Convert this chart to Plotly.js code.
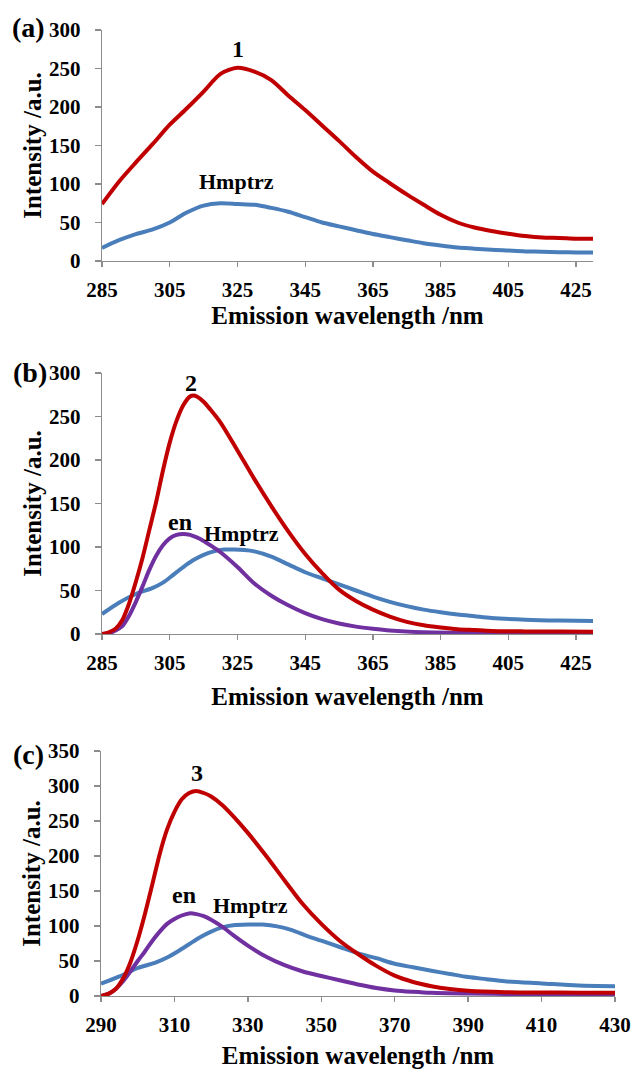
<!DOCTYPE html>
<html>
<head>
<meta charset="utf-8">
<script src="https://cdn.plot.ly/plotly-3.0.1.min.js"></script>
<style>
html,body{margin:0;padding:0;background:#fff;}
#chart{width:632px;height:1069px;}
</style>
</head>
<body>
<div id="chart"></div>
<script>
// ---------- Data ----------
// Panel (a)
const aRedX  = [285,290,295,300,305,310,315,320,325,330,335,340,345,350,355,360,365,370,375,380,385,390,395,400,405,410,415,420,425,430];
const aRedY  = [74,103,128,152,177,198,220,243,251,246,235,215,196,176,156,135,116,101,86.5,73,60,50,43.5,39,35.5,32.5,30.5,30,29,29];
const aBlueX = [285,290,295,300,305,310,315,320,325,330,335,340,345,350,355,360,365,370,375,380,385,390,395,400,405,410,415,420,425,430];
const aBlueY = [17,27,35,41,50,63,72,75,74,73,69,64,57,50,45,40,35,31,27,23,20,17.5,16,14.5,13.5,12.5,12,11.5,11,11];

// Panel (b)
const bRedX  = [285,287,289,291,293,295,297,299,301,303,305,307,309,311,312,313,315,317,320,325,330,335,340,345,350,355,360,365,370,375,380,385,390,395,400,410,420,430];
const bRedY  = [0,2,6,16,35,60,88,120,152,188,220,245,263,273,274,273,267,258,243,211,178,147,118,92,70,51,38,28,20,14,10,7.5,5.5,4.5,3.5,3,2.8,2.7];
const bEnX   = [285,287,289,291,293,295,297,299,301,303,305,307,309,311,313,315,317,320,325,330,335,340,345,350,355,360,365,370,380,390,400,430];
const bEnY   = [0,1,4,9,21,37,55,74,90,102,110,114,115,114,111,107,102,94,77,58,44,33,24,17,12,8.5,6,4,2,1.5,1.2,1];
const bBlueX = [285,290,295,300,303,306,309,312,315,318,321,324,327,330,335,340,345,350,355,360,365,370,375,380,385,390,395,400,410,420,430];
const bBlueY = [23,36,46,53,59,68,77,85,91,95,97,97,96.5,95,89,80,71,64,57,50,43,37,32,28,25,22.5,20.5,18.5,16.5,15.5,15];

// Panel (c)
const cRedX  = [290,292,294,296,298,300,302,304,306,308,310,312,314,316,318,320,323,326,330,335,340,345,350,355,360,365,370,375,380,385,390,400,410,420,430];
const cRedY  = [0,3,10,25,48,80,118,160,203,238,263,281,290,293,290,285,273,257,233,200,165,131,103,79,60,43,29,20,14,10,7.5,5.5,5,4.7,4.7];
const cEnX   = [290,292,294,296,298,300,302,304,306,308,310,312,314,316,318,320,323,326,330,335,340,345,350,355,360,365,370,375,380,390,400,430];
const cEnY   = [0,3,10,21,35,50,64,79,92,103,110,115,118,117,114,109,99,87,72,56,44,35,28.5,22.5,16.5,11.5,8,6,4.5,3.5,3,2.4];
const cBlueX = [290,295,300,305,308,311,314,317,320,323,326,330,334,338,342,346,350,355,360,365,370,375,380,385,390,395,400,410,420,430];
const cBlueY = [17.5,28,40,48,55,64,74,84,92,98,101,102,102,99.5,94,86,79,70,61,54,46,41,36,31.5,27,24,21,18,15,14];

// Tick values / labels
const abTicks = [285,305,325,345,365,385,405,425];
const cTicks  = [290,310,330,350,370,390,410,430];
const panelLabels = ['(a)','(b)','(c)'];
const seriesLabels = {a:['1','Hmptrz'], b:['2','en','Hmptrz'], c:['3','en','Hmptrz']};
const xTitle = 'Emission wavelength /nm';
const yTitle = 'Intensity /a.u.';

// ---------- Styling ----------
const RED = '#C00000', BLUE = '#4A7EBB', PURPLE = '#7030A0';
const FONT = 'Liberation Serif, Times New Roman, serif';
const W = 632, H = 1069;
const LW = 4;

function line(x, y, color, xa, ya) {
  return {x: x, y: y, type: 'scatter', mode: 'lines', xaxis: xa, yaxis: ya,
          line: {color: color, width: LW, shape: 'spline', smoothing: 0.8},
          hoverinfo: 'x+y', showlegend: false};
}

const data = [
  line(aBlueX, aBlueY, BLUE, 'x', 'y'),
  line(aRedX, aRedY, RED, 'x', 'y'),
  line(bBlueX, bBlueY, BLUE, 'x2', 'y2'),
  line(bEnX, bEnY, PURPLE, 'x2', 'y2'),
  line(bRedX, bRedY, RED, 'x2', 'y2'),
  line(cBlueX, cBlueY, BLUE, 'x3', 'y3'),
  line(cEnX, cEnY, PURPLE, 'x3', 'y3'),
  line(cRedX, cRedY, RED, 'x3', 'y3')
];

function px2x(p){ return p / W; }
function px2y(p){ return 1 - p / H; }

function xAxis(domain, range, ticks, anchor, standoff) {
  return {domain: domain, range: range, anchor: anchor, tickvals: ticks,
          showline: true, linecolor: '#8c8c8c', linewidth: 1.3, mirror: false,
          ticks: 'outside', ticklen: 5, tickcolor: '#8c8c8c', tickwidth: 1.3,
          showgrid: false, zeroline: false, fixedrange: true,
          ticklabelstandoff: 4,
          tickfont: {family: FONT, size: 21, color: '#000', weight: 'bold'},
          title: {text: xTitle, standoff: standoff,
                  font: {family: FONT, size: 25, color: '#000', weight: 'bold'}}};
}
function yAxis(domain, range, anchor) {
  return {domain: domain, range: range, anchor: anchor, dtick: 50,
          showline: true, linecolor: '#8c8c8c', linewidth: 1.3,
          ticks: 'outside', ticklen: 6, tickcolor: '#8c8c8c', tickwidth: 1.3,
          showgrid: false, zeroline: false, fixedrange: true,
          ticklabelstandoff: 10,
          tickfont: {family: FONT, size: 21, color: '#000', weight: 'bold'},
          title: {text: yTitle, standoff: 0,
                  font: {family: FONT, size: 25, color: '#000', weight: 'bold'}}};
}

function ann(text, x, y, xref, yref, size) {
  return {text: text, x: x, y: y, xref: xref, yref: yref, showarrow: false,
          xanchor: 'center', yanchor: 'middle',
          font: {family: FONT, size: size, color: '#000', weight: 'bold'}};
}

const layout = {
  width: W, height: H,
  margin: {l: 0, r: 0, t: 0, b: 0},
  paper_bgcolor: '#fff', plot_bgcolor: '#fff',
  showlegend: false,
  xaxis:  xAxis([px2x(102), px2x(593)], [285, 430], abTicks, 'y', 6),
  yaxis:  yAxis([px2y(261), px2y(30)], [0, 300], 'x'),
  xaxis2: xAxis([px2x(102), px2x(593)], [285, 430], abTicks, 'y2', 14),
  yaxis2: yAxis([px2y(634), px2y(373)], [0, 300], 'x2'),
  xaxis3: xAxis([px2x(101), px2x(615)], [290, 430], cTicks, 'y3', 12),
  yaxis3: yAxis([px2y(996), px2y(751)], [0, 350], 'x3'),
  annotations: [
    ann(panelLabels[0], px2x(28), px2y(28), 'paper', 'paper', 28),
    ann(panelLabels[1], px2x(30), px2y(372), 'paper', 'paper', 28),
    ann(panelLabels[2], px2x(28), px2y(754), 'paper', 'paper', 28),
    ann(seriesLabels.a[0], 325.2, 275, 'x', 'y', 24),
    ann(seriesLabels.a[1], 324.6, 103, 'x', 'y', 22),
    ann(seriesLabels.b[0], 311.2, 289, 'x2', 'y2', 24),
    ann(seriesLabels.b[1], 308, 129, 'x2', 'y2', 24),
    ann(seriesLabels.b[2], 326.2, 116, 'x2', 'y2', 22),
    ann(seriesLabels.c[0], 316.1, 319, 'x3', 'y3', 24),
    ann(seriesLabels.c[1], 312.7, 145, 'x3', 'y3', 24),
    ann(seriesLabels.c[2], 330.6, 129, 'x3', 'y3', 22)
  ]
};

Plotly.newPlot('chart', data, layout, {displayModeBar: false, staticPlot: true});
</script>
</body>
</html>
